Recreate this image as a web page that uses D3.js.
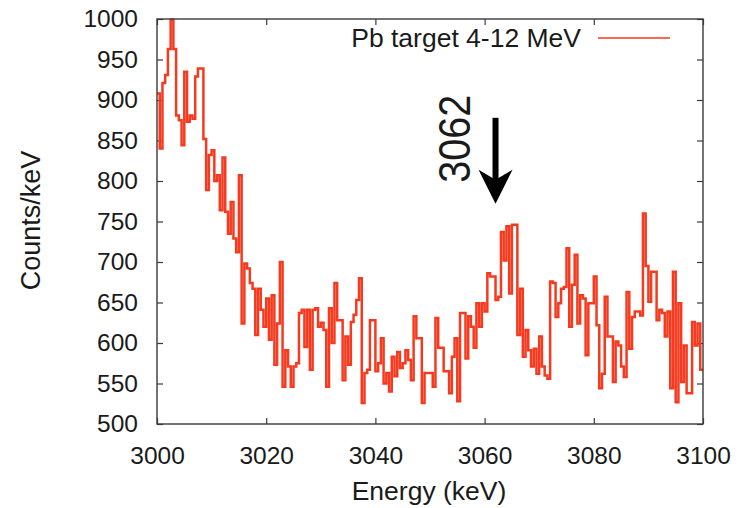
<!DOCTYPE html>
<html>
<head>
<meta charset="utf-8">
<script src="https://cdn.jsdelivr.net/npm/d3@7/dist/d3.min.js"></script>
<style>
  html, body { margin: 0; padding: 0; background: #fff; }
  svg { display: block; }
  text { font-family: "Liberation Sans", Arial, Helvetica, sans-serif; fill: #1a1a1a; }
</style>
</head>
<body>
<svg id="chart" width="740" height="508"></svg>
<script>
// Pb target spectrum, 0.5 keV bins from 3000 keV
const energyStart = 3000;
const binWidth = 0.5;
const counts = [
  908, 840, 921, 931, 963, 999, 963, 881, 875, 844,
  935, 873, 881, 877, 929, 939, 939, 852, 789, 832,
  838, 800, 807, 764, 829, 762, 735, 774, 729, 712,
  807, 624, 698, 692, 674, 667, 610, 667, 641, 620,
  655, 604, 659, 573, 624, 700, 546, 591, 571, 546,
  571, 575, 637, 641, 595, 641, 567, 641, 643, 620,
  625, 616, 546, 643, 600, 674, 628, 628, 554, 608,
  573, 626, 635, 653, 680, 526, 563, 567, 628, 628,
  565, 575, 606, 550, 563, 540, 583, 559, 589, 569,
  575, 591, 579, 554, 633, 606, 606, 526, 563, 563,
  563, 546, 631, 594, 594, 565, 565, 538, 583, 606,
  528, 637, 637, 581, 633, 620, 594, 649, 620, 649,
  639, 686, 682, 682, 653, 657, 737, 702, 744, 661,
  746, 746, 610, 667, 583, 616, 591, 571, 593, 562,
  608, 571, 560, 556, 676, 674, 632, 649, 667, 669,
  717, 620, 672, 709, 624, 659, 655, 585, 649, 649,
  682, 622, 544, 562, 657, 608, 608, 552, 602, 597,
  571, 558, 663, 593, 632, 639, 639, 634, 760, 695,
  651, 688, 688, 628, 641, 637, 608, 639, 544, 688,
  527, 649, 552, 597, 538, 538, 626, 597, 624, 567
];
const xTicks = [3000, 3020, 3040, 3060, 3080, 3100];
const yTicks = [500, 550, 600, 650, 700, 750, 800, 850, 900, 950, 1000];
const seriesLabel = "Pb target 4-12 MeV";
const peakEnergy = 3062;
const peakLabel = "3062";
const arrowFrom = 878, arrowTo = 772;   // counts/keV span of the marker arrow

const lineColor = "#f53a1f";
const margin = { left: 157, top: 19, right: 37, bottom: 84 };
const W = 740, H = 508;
const iw = W - margin.left - margin.right;
const ih = H - margin.top - margin.bottom;

const svg = d3.select("#chart");
const g = svg.append("g").attr("transform", `translate(${margin.left},${margin.top})`);

const x = d3.scaleLinear().domain([3000, 3100]).range([0, iw]);
const y = d3.scaleLinear().domain([500, 1000]).range([ih, 0]);

// axes: inward ticks on all four sides, labels on bottom and left
const tickLen = 6;
const axisColor = "#3a3a3a";
function styleAxis(sel) {
  sel.select(".domain").remove();
  sel.selectAll(".tick line").attr("stroke", axisColor).attr("stroke-width", 1.2);
  sel.selectAll(".tick text").style("font-size", "24.5px").attr("fill", "#1a1a1a");
}
g.append("g").attr("transform", `translate(0,${ih})`)
  .call(d3.axisBottom(x).tickValues(xTicks).tickFormat(d3.format("d"))
        .tickSizeInner(-tickLen).tickSizeOuter(0).tickPadding(23))
  .call(styleAxis);
g.append("g")
  .call(d3.axisTop(x).tickValues(xTicks).tickFormat("")
        .tickSizeInner(-tickLen).tickSizeOuter(0))
  .call(styleAxis);
g.append("g")
  .call(d3.axisLeft(y).tickValues(yTicks).tickFormat(d3.format("d"))
        .tickSizeInner(-tickLen).tickSizeOuter(0).tickPadding(19))
  .call(styleAxis);
g.append("g").attr("transform", `translate(${iw},0)`)
  .call(d3.axisRight(y).tickValues(yTicks).tickFormat("")
        .tickSizeInner(-tickLen).tickSizeOuter(0))
  .call(styleAxis);

// histogram steps
const pts = counts.map((c, i) => [energyStart + i * binWidth, c]);
pts.push([energyStart + counts.length * binWidth, counts[counts.length - 1]]);
const step = d3.line().x(d => x(d[0])).y(d => y(d[1])).curve(d3.curveStepAfter);

g.append("defs").append("clipPath").attr("id", "plotClip")
  .append("rect").attr("x", 0).attr("y", -2).attr("width", iw).attr("height", ih + 2);

g.append("path")
  .datum(pts)
  .attr("d", step)
  .attr("fill", "none")
  .attr("stroke", lineColor)
  .attr("stroke-width", 2.5)
  .attr("stroke-linejoin", "miter")
  .attr("clip-path", "url(#plotClip)");

// frame
g.append("rect")
  .attr("x", 0).attr("y", 0).attr("width", iw).attr("height", ih)
  .attr("fill", "none").attr("stroke", axisColor).attr("stroke-width", 1.4);

// legend
g.append("text")
  .attr("x", 424).attr("y", 28)
  .attr("text-anchor", "end")
  .style("font-size", "26.5px")
  .text(seriesLabel);
g.append("line")
  .attr("x1", 441).attr("x2", 513).attr("y1", 19).attr("y2", 19)
  .attr("stroke", lineColor).attr("stroke-width", 1.6);

// peak marker
const ax = x(peakEnergy);
const yTop = y(arrowFrom), yTip = y(arrowTo);
g.append("line")
  .attr("x1", ax).attr("x2", ax).attr("y1", yTop).attr("y2", yTip - 20)
  .attr("stroke", "#000").attr("stroke-width", 6);
g.append("path")
  .attr("d", `M${ax},${yTip} L${ax - 17},${yTip - 34} L${ax},${yTip - 24} L${ax + 17},${yTip - 34} Z`)
  .attr("fill", "#000");
g.append("text")
  .attr("transform", `translate(${ax - 26},${yTop + 21}) rotate(-90)`)
  .attr("text-anchor", "middle")
  .style("font-size", "45px")
  .attr("textLength", 88)
  .attr("lengthAdjust", "spacingAndGlyphs")
  .attr("fill", "#000")
  .text(peakLabel);

// axis titles
svg.append("text")
  .attr("x", margin.left + iw / 2 - 1).attr("y", 500)
  .attr("text-anchor", "middle")
  .style("font-size", "26.5px")
  .text("Energy (keV)");
svg.append("text")
  .attr("transform", `translate(40,${margin.top + ih / 2 - 1}) rotate(-90)`)
  .attr("text-anchor", "middle")
  .style("font-size", "27px")
  .text("Counts/keV");
</script>
</body>
</html>
